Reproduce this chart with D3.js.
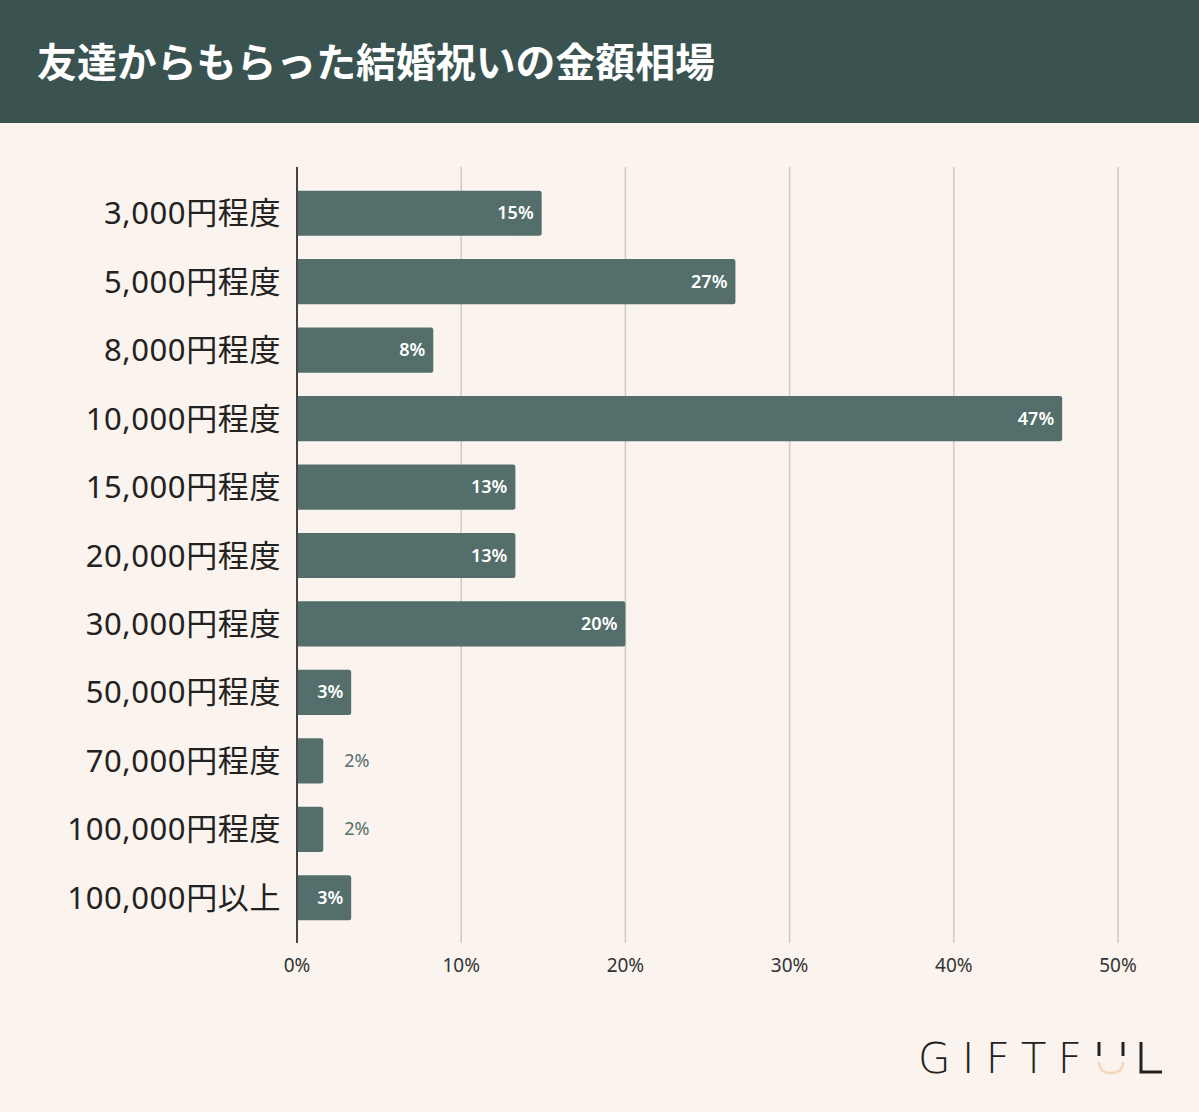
<!DOCTYPE html>
<html><head><meta charset="utf-8">
<script src="https://cdn.jsdelivr.net/npm/d3@7"></script>
<style>body{margin:0;background:#faf3ee;}svg{display:block;}</style>
</head><body>
<svg id="chart" width="1199" height="1112"></svg>
<script>
var categories = ["3,000円程度","5,000円程度","8,000円程度","10,000円程度","15,000円程度","20,000円程度","30,000円程度","50,000円程度","70,000円程度","100,000円程度","100,000円以上"],
   values = [14.9, 26.7, 8.3, 46.6, 13.3, 13.3, 20.0, 3.3, 1.6, 1.6, 3.3],
   labels = ["15%","27%","8%","47%","13%","13%","20%","3%","2%","2%","3%"],
   ticks = [0, 10, 20, 30, 40, 50];

var svg = d3.select("#chart"),
   barColor = "#546f6b",
   font = "'Noto Sans','Noto Sans CJK JP',sans-serif";

svg.append("rect").attr("width", 1199).attr("height", 1112).attr("fill", "#faf3ee");
svg.append("rect").attr("width", 1199).attr("height", 123).attr("fill", "#3a5350");
svg.append("text").attr("x", 37).attr("y", 77)
   .attr("font-family", font).attr("font-weight", 700).attr("font-size", 40)
   .attr("textLength", 678).attr("lengthAdjust", "spacingAndGlyphs")
   .attr("fill", "#fff").text("友達からもらった結婚祝いの金額相場");

var x = d3.scaleLinear().domain([0, 50]).range([297, 1118]);
var y = d3.scaleBand().domain(categories).range([179, 932]).paddingInner(0.34).paddingOuter(0.17);

// grid
svg.selectAll(".grid").data(ticks.slice(1)).join("line")
   .attr("x1", d => x(d)).attr("x2", d => x(d))
   .attr("y1", 167).attr("y2", 943)
   .attr("stroke", "#cfcac6").attr("stroke-width", 1.5);

svg.selectAll(".tick").data(ticks).join("text")
   .attr("x", d => x(d)).attr("y", 972).attr("text-anchor", "middle")
   .attr("font-family", font).attr("font-size", 19).attr("fill", "#333")
   .text(d => d + "%");

// bars with small rounded right end
svg.selectAll(".bar").data(values).join("path")
   .attr("fill", barColor)
   .attr("d", function(d, i) {
      var x0 = x(0), x1 = x(d), y0 = y(categories[i]), h = y.bandwidth(), r = 2.5;
      return "M" + x0 + "," + y0 + "H" + (x1 - r) + "Q" + x1 + "," + y0 + " " + x1 + "," + (y0 + r) +
         "V" + (y0 + h - r) + "Q" + x1 + "," + (y0 + h) + " " + (x1 - r) + "," + (y0 + h) + "H" + x0 + "Z";
   });

svg.append("line").attr("x1", 297).attr("x2", 297).attr("y1", 167).attr("y2", 943)
   .attr("stroke", "#444").attr("stroke-width", 2);

svg.selectAll(".cat").data(categories).join("text")
   .attr("x", 281).attr("y", d => y(d) + y.bandwidth() / 2 + 11)
   .attr("text-anchor", "end").attr("font-family", font).attr("font-size", 31).attr("fill", "#222")
   .attr("letter-spacing", 0.6)
   .text(d => d);

svg.selectAll(".val").data(values).join("text")
   .attr("x", (d, i) => d < 3 ? x(d) + 21 : x(d) - 8)
   .attr("y", (d, i) => y(categories[i]) + y.bandwidth() / 2 + 6)
   .attr("text-anchor", d => d < 3 ? "start" : "end")
   .attr("font-family", font).attr("font-size", 18)
   .attr("font-weight", d => d < 3 ? 400 : 600)
   .attr("fill", d => d < 3 ? barColor : "#fff")
   .text((d, i) => labels[i]);

// logo
var logo = svg.append("g").attr("font-family", "'DejaVu Sans',sans-serif").attr("font-weight", 300).attr("font-size", 42).attr("fill", "#222");
logo.append("text").attr("x", 918).attr("y", 1073)
   .attr("textLength", 164).attr("lengthAdjust", "spacing").text("GIFTF");
logo.append("path").attr("d", "M1099,1062 Q1099,1073 1111,1073 Q1123,1073 1123,1062")
   .attr("fill", "none").attr("stroke", "#f4d6bd").attr("stroke-width", 2.5);
logo.append("line").attr("x1", 1099).attr("x2", 1099).attr("y1", 1042).attr("y2", 1056).attr("stroke", "#222").attr("stroke-width", 3);
logo.append("line").attr("x1", 1123).attr("x2", 1123).attr("y1", 1042).attr("y2", 1056).attr("stroke", "#222").attr("stroke-width", 3);
logo.append("path").attr("d", "M1141,1042 V1072 H1162").attr("fill", "none").attr("stroke", "#222").attr("stroke-width", 3);
</script>
</body></html>
